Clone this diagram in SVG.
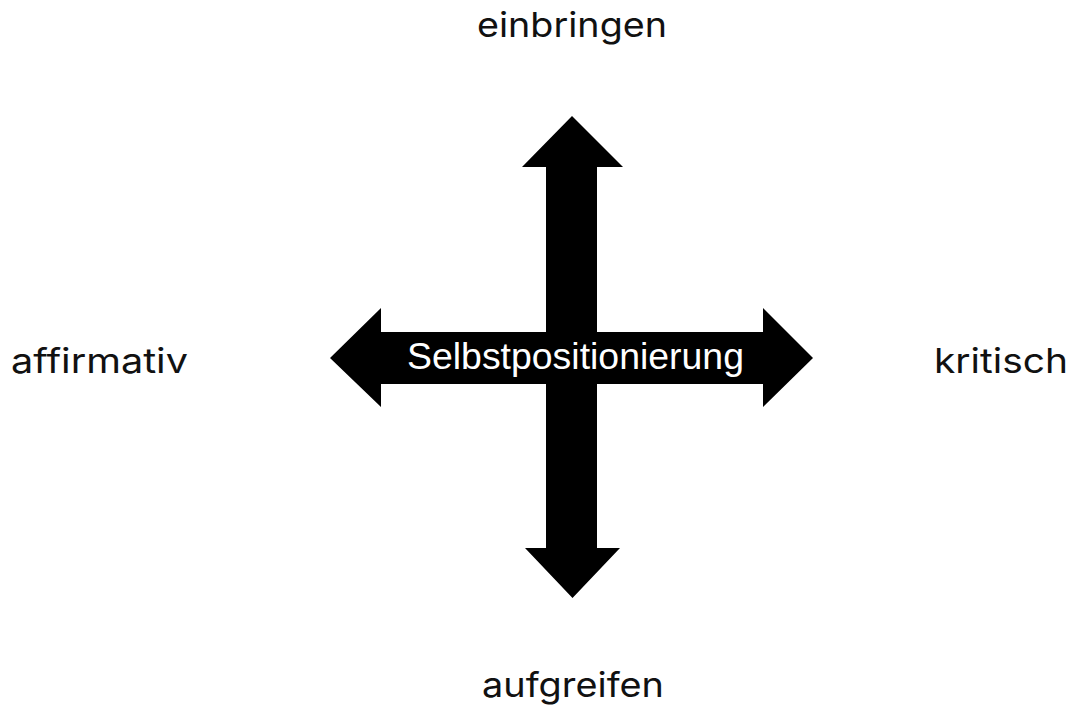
<svg xmlns="http://www.w3.org/2000/svg" width="1074" height="711" viewBox="0 0 1074 711">
<style>
.lbl{font-family:Inter,"Noto Sans","Liberation Sans",sans-serif;font-size:34px;fill:#111}
.arrow{fill:#000;stroke:none}
.center{font-family:"Liberation Sans",Arial,sans-serif;font-size:36px;fill:#fff}
</style>
<rect width="1074" height="711" fill="#fff"/>
<g id="connectors">
<path class="arrow" d="M572,116 L623,167 L597,167 L597,548 L620,548 L572.5,598 L525,548 L546,548 L546,167 L522,167 Z"/>
<path class="arrow" d="M330,358 L381,308 L381,332 L763,332 L763,308 L813,358 L763,407 L763,384 L381,384 L381,407 Z"/>
</g>
<g id="node-center">
<text class="center" x="407" y="369" textLength="337" lengthAdjust="spacingAndGlyphs">Selbstpositionierung</text>
</g>
<g id="node-top">
<text class="lbl" x="477" y="37" textLength="190" lengthAdjust="spacingAndGlyphs">einbringen</text>
</g>
<g id="node-left">
<text class="lbl" x="11" y="373" textLength="177" lengthAdjust="spacingAndGlyphs">affirmativ</text>
</g>
<g id="node-right">
<text class="lbl" x="934" y="373" textLength="134" lengthAdjust="spacingAndGlyphs">kritisch</text>
</g>
<g id="node-bottom">
<text class="lbl" x="482" y="697" textLength="182" lengthAdjust="spacingAndGlyphs">aufgreifen</text>
</g>
</svg>
